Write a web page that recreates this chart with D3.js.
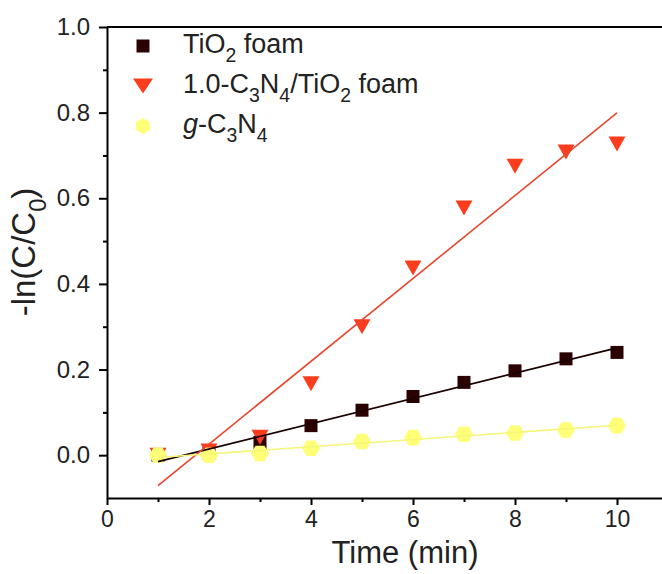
<!DOCTYPE html>
<html>
<head>
<meta charset="utf-8">
<script src="https://cdn.jsdelivr.net/npm/d3@7"></script>
<style>
body { margin: 0; background: #fff; }
svg text { font-family: "Liberation Sans", Arial, sans-serif; fill: #222; }
</style>
</head>
<body>
<svg id="chart" width="662" height="574"></svg>
<script>
// data
var times = [1, 2, 3, 4, 5, 6, 7, 8, 9, 10]
var tio2Foam = [0.0, 0.005, 0.03, 0.069, 0.105, 0.137, 0.170, 0.197, 0.225, 0.240]
var c3n4TiO2Foam = [0.0, 0.01, 0.042, 0.167, 0.30, 0.437, 0.577, 0.675, 0.708, 0.727]
var gC3N4 = [0.0, 0.0, 0.004, 0.016, 0.032, 0.041, 0.049, 0.052, 0.059, 0.069]
var xTicks = [0, 2, 4, 6, 8, 10]
var xMinor = [1, 3, 5, 7, 9, 11]
var yTicks = [0.0, 0.2, 0.4, 0.6, 0.8, 1.0]
var yMinor = [0.1, 0.3, 0.5, 0.7, 0.9]

var svg = d3.select('#chart')
var plotL = 107, plotT = 27, plotR = 668, plotB = 498

var x = d3.scaleLinear().domain([0, 11]).range([plotL, plotR])
var y = d3.scaleLinear().domain([-0.1, 1.0]).range([plotB, plotT])

// frame top line
svg.append('line')
	.attr('x1', plotL).attr('x2', plotR)
	.attr('y1', plotT).attr('y2', plotT)
	.attr('stroke', '#000').attr('stroke-width', 2)

// minor ticks first
svg.append('g').attr('transform', 'translate(0,' + plotB + ')')
	.call(d3.axisBottom(x).tickValues(xMinor).tickSize(4).tickFormat(''))
	.call(function(g){ g.select('.domain').remove() })
	.selectAll('line').attr('stroke-width', 2)
svg.append('g').attr('transform', 'translate(' + plotL + ',0)')
	.call(d3.axisLeft(y).tickValues(yMinor).tickSize(4).tickFormat(''))
	.call(function(g){ g.select('.domain').remove() })
	.selectAll('line').attr('stroke-width', 2)

var gx = svg.append('g').attr('transform', 'translate(0,' + plotB + ')')
	.call(d3.axisBottom(x).tickValues(xTicks).tickSize(7).tickPadding(6).tickSizeOuter(0).tickFormat(d3.format('d')))
	.attr('font-size', 23).attr('font-family', '"Liberation Sans", Arial, sans-serif')
gx.select('.domain').attr('stroke-width', 2)
gx.selectAll('line').attr('stroke-width', 2)
gx.selectAll('text').attr('fill', '#222')

var gy = svg.append('g').attr('transform', 'translate(' + plotL + ',0)')
	.call(d3.axisLeft(y).tickValues(yTicks).tickSize(8).tickPadding(9).tickSizeOuter(0).tickFormat(d3.format('.1f')))
	.attr('font-size', 24).attr('font-family', '"Liberation Sans", Arial, sans-serif')
gy.select('.domain').attr('stroke-width', 2)
gy.selectAll('line').attr('stroke-width', 2)
gy.selectAll('text').attr('fill', '#222')

// rich text with subscripts / italics
function richText(sel, parts, size)
{
	var shift = 0
	parts.forEach(function(p)
	{
		var ts = sel.append('tspan').text(p.t)
		var want = p.sub ? size * 0.32 : 0
		ts.attr('dy', want - shift)
		shift = want
		if(p.sub) ts.style('font-size', (size * 0.72) + 'px')
		if(p.it) ts.style('font-style', 'italic')
	})
	return sel
}

// axis titles
richText(svg.append('text').attr('x', 405).attr('y', 563)
	.attr('text-anchor', 'middle').style('font-size', '31px'),
	[{t: 'Time (min)'}], 31)
richText(svg.append('text').attr('transform', 'translate(35,252) rotate(-90)')
	.attr('text-anchor', 'middle').style('font-size', '33px'),
	[{t: '-ln(C/C'}, {t: '0', sub: true}, {t: ')'}], 33)

// marker shapes
function squarePath(s){ return 'M' + (-s/2) + ',' + (-s/2) + 'h' + s + 'v' + s + 'h' + (-s) + 'Z' }
function triPath(w, h){ return 'M' + (-w/2) + ',' + (-h/2) + 'L' + (w/2) + ',' + (-h/2) + 'L0,' + (h/2) + 'Z' }
function hexPath(r, pointy)
{
	var pts = []
	for(var i = 0; i < 6; ++i)
	{
		var a = Math.PI / 3 * i + (pointy ? Math.PI / 6 : 0)
		pts.push([r * Math.cos(a), r * Math.sin(a)])
	}
	return 'M' + pts.map(function(p){ return p[0].toFixed(2) + ',' + p[1].toFixed(2) }).join('L') + 'Z'
}

var series = [
	{name: 'tio2', vals: tio2Foam, fill: '#2b0202', line: '#1a0000', shape: squarePath(13)},
	{name: 'comp', vals: c3n4TiO2Foam, fill: '#fb3d1d', line: '#e5472d', shape: triPath(17, 15)},
	{name: 'gcn', vals: gC3N4, fill: '#ffff78', line: '#f5f57a', shape: hexPath(9, false)}
]

// least squares fit of each series
function linFit(xs, ys)
{
	var mx = d3.mean(xs), my = d3.mean(ys)
	var sxy = d3.sum(xs, function(v, i){ return (v - mx) * (ys[i] - my) })
	var sxx = d3.sum(xs, function(v){ return (v - mx) * (v - mx) })
	var k = sxy / sxx
	return [k, my - k * mx]
}

series.forEach(function(s)
{
	svg.append('g').selectAll('path').data(times).enter().append('path')
		.attr('d', s.shape)
		.attr('fill', s.fill)
		.attr('transform', function(d, i){ return 'translate(' + x(d) + ',' + y(s.vals[i]) + ')' })
})

var line = d3.line().x(function(d){ return x(d[0]) }).y(function(d){ return y(d[1]) })
series.forEach(function(s)
{
	var f = linFit(times, s.vals)
	var ends = [times[0], times[times.length - 1]].map(function(t){ return [t, f[0] * t + f[1]] })
	svg.append('path').datum(ends)
		.attr('d', line)
		.attr('fill', 'none')
		.attr('stroke', s.line)
		.attr('stroke-width', 1.6)
})

// legend
var legendRows = [
	{shape: squarePath(13), fill: '#2b0202', parts: [{t: 'TiO'}, {t: '2', sub: true}, {t: ' foam'}]},
	{shape: triPath(20, 15), fill: '#fb3d1d', parts: [{t: '1.0-C'}, {t: '3', sub: true}, {t: 'N'}, {t: '4', sub: true}, {t: '/TiO'}, {t: '2', sub: true}, {t: ' foam'}]},
	{shape: hexPath(8, true), fill: '#ffff78', parts: [{t: 'g', it: true}, {t: '-C'}, {t: '3', sub: true}, {t: 'N'}, {t: '4', sub: true}]}
]
var legend = svg.append('g')
legendRows.forEach(function(r, i)
{
	var base = 53 + i * 40
	legend.append('path').attr('d', r.shape).attr('fill', r.fill)
		.attr('transform', 'translate(143,' + (base - 7) + ')')
	richText(legend.append('text').attr('x', 183).attr('y', base).style('font-size', '27px'), r.parts, 27)
})
</script>
</body>
</html>
